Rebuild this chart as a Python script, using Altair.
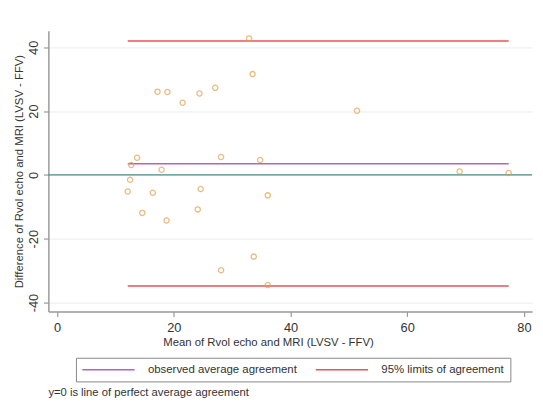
import altair as alt
import pandas as pd

# Bland-Altman data
mean_x = [32.9, 33.5, 17.2, 18.9, 21.5, 24.4, 27.1, 13.7, 12.7, 17.9, 28.1, 34.8,
          12.5, 12.1, 16.4, 24.6, 36.1, 51.4, 69.0, 77.4, 14.6, 18.75, 24.1, 33.7,
          28.1, 36.1]
diff_y = [42.8, 31.6, 26.1, 26.0, 22.6, 25.5, 27.3, 5.4, 3.1, 1.6, 5.6, 4.7,
          -1.5, -5.2, -5.6, -4.4, -6.4, 20.1, 1.1, 0.6, -11.9, -14.3, -10.8, -25.6,
          -29.9, -34.5]

line_labels = ["observed average agreement", "95% limits of agreement", "95% limits of agreement"]
line_values = [3.5, 42.0, -34.8]
line_x_start = [12.1, 12.1, 12.1]
line_x_end = [77.4, 77.4, 77.4]

x_ticks = [0, 20, 40, 60, 80]
y_ticks = [-40, -20, 0, 20, 40]

note_text = ["y=0 is line of perfect average agreement"]

pts = pd.DataFrame({"x": mean_x, "y": diff_y})
lines = pd.DataFrame({"series": line_labels, "y": line_values,
                      "x1": line_x_start, "x2": line_x_end})
note = pd.DataFrame({"t": note_text})

FONT = "Liberation Sans"
xscale = alt.Scale(domain=[-1.5, 81.4], nice=False, zero=False)
yscale = alt.Scale(domain=[-42.8, 45.2], nice=False, zero=False)

xaxis = alt.Axis(values=x_ticks, title="Mean of Rvol echo and MRI (LVSV - FFV)",
                 grid=False, labelFontSize=13, titleFontSize=11.5, labelPadding=5,
                 tickSize=5, titlePadding=3, titleX=223, labelFlush=False,
                 labelExpr="'' + datum.value")
yaxis = alt.Axis(values=y_ticks, title="Difference of Rvol echo and MRI (LVSV - FFV)",
                 grid=True, gridColor="#ececec", labelFontSize=13, titleFontSize=11.5,
                 labelAngle=-90, labelAlign="center", labelBaseline="bottom",
                 labelPadding=3, tickSize=5, titlePadding=3, labelFlush=False,
                 labelExpr="'' + datum.value")

zero = alt.Chart(pd.DataFrame({"z": [0]})).mark_rule(color="#4a8a88", strokeWidth=1.3).encode(
    y=alt.Y("z:Q", scale=yscale, axis=yaxis)
)

rules = alt.Chart(lines).mark_rule(strokeWidth=1.6).encode(
    x=alt.X("x1:Q", scale=xscale, axis=xaxis),
    x2="x2:Q",
    y=alt.Y("y:Q", scale=yscale, axis=yaxis),
    color=alt.Color("series:N",
                    scale=alt.Scale(domain=["observed average agreement", "95% limits of agreement"],
                                    range=["#b463c4", "#e8525e"]),
                    legend=alt.Legend(title=None, orient="none", legendX=28, legendY=332,
                                      direction="horizontal", symbolType="M-5.3,0H5.3",
                                      symbolSize=100, symbolStrokeWidth=1.5,
                                      symbolOffset=21, labelOffset=34,
                                      labelFontSize=11.6, labelColor="#333", labelFont=FONT,
                                      columnPadding=15, padding=6,
                                      strokeColor="#888", fillColor="white"))
)

points = alt.Chart(pts).mark_point(shape="circle", filled=False, size=28,
                                   strokeWidth=1.3, color="#e0a050").encode(
    x=alt.X("x:Q", scale=xscale, axis=xaxis),
    y=alt.Y("y:Q", scale=yscale, axis=yaxis)
)

note_mark = alt.Chart(note).mark_text(align="left", baseline="middle", fontSize=11.4,
                                      font=FONT, color="#333").encode(
    text="t:N", x=alt.value(0), y=alt.value(368)
)

chart = alt.layer(zero, rules, points, note_mark).properties(
    width=491, height=285,
    autosize=alt.AutoSizeParams(type="none"),
    padding={"left": 41, "top": 20, "right": 3, "bottom": 100},
    background="white"
).configure_view(stroke=None).configure_axis(
    domainColor="#999", domainWidth=1.5, tickColor="#999", tickWidth=1.2,
    labelColor="#333", titleColor="#333", labelFont=FONT, titleFont=FONT,
    titleFontWeight="normal"
)

chart.save("out.html", embed_options={"renderer": "svg", "actions": False})
